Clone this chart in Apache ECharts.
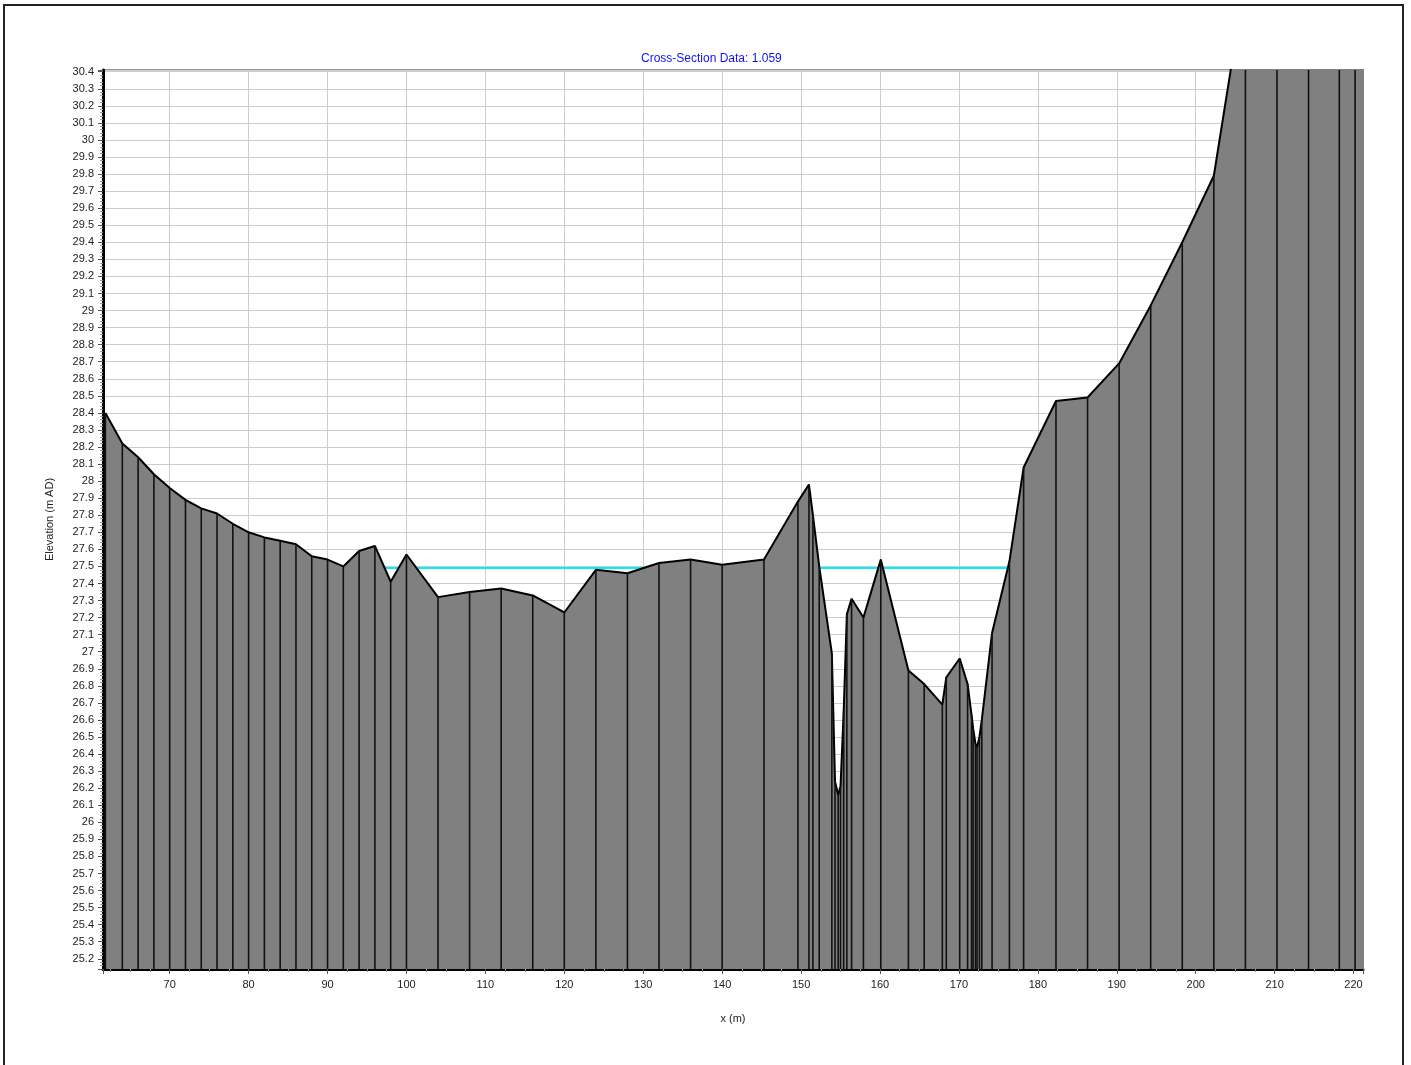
<!DOCTYPE html>
<html>
<head>
<meta charset="utf-8">
<script src="https://cdn.jsdelivr.net/npm/echarts@6/dist/echarts.min.js"></script>
<style>
html,body{margin:0;padding:0;background:#fff;}
#chart{width:1411px;height:1065px;}
</style>
</head>
<body>
<div id="chart"></div>
<script>
// Chainage (m) of each surveyed point
const stationX = [61.85, 64, 66, 68, 70, 72, 74, 76, 78, 80, 82, 84, 86, 88, 90, 92, 94, 96, 98, 100,
  104, 108, 112, 116, 120, 124, 128, 132, 136, 140, 145.3, 149.6, 151.0, 151.5, 152.3, 153.9,
  154.3, 154.7, 155.0, 155.4, 155.8, 156.4, 157.9, 160.1, 163.6, 165.6, 167.9, 168.4, 170.1,
  171.1, 171.6, 171.8, 172.1, 172.3, 172.6, 172.9, 174.2, 176.4, 178.2, 182.3, 186.3, 190.3,
  194.3, 198.3, 202.3, 206.3, 210.3, 214.3, 218.2, 220.2, 222.2];
// Bed elevation (m AD)
const elevation = [28.40, 28.22, 28.14, 28.04, 27.96, 27.89, 27.84, 27.81, 27.75, 27.70, 27.67, 27.65,
  27.63, 27.56, 27.54, 27.50, 27.59, 27.62, 27.41, 27.57, 27.32, 27.35, 27.37, 27.33, 27.23, 27.48,
  27.46, 27.52, 27.54, 27.51, 27.54, 27.88, 27.98, 27.80, 27.50, 26.99, 26.24, 26.16, 26.21, 26.65,
  27.22, 27.31, 27.20, 27.54, 26.89, 26.81, 26.69, 26.85, 26.96, 26.81, 26.63, 26.55, 26.46, 26.44,
  26.50, 26.60, 27.11, 27.53, 28.08, 28.47, 28.49, 28.69, 29.03, 29.40, 29.79, 30.95, 31.5, 32.0,
  32.4, 32.6, 32.8];
// Water surface
const waterLevel = 27.49;
const waterExtent = [97.3, 176.3];
// Axis ranges
const xRange = [61.55, 221.2];
const yRange = [25.14, 30.41];
const titleText = 'Cross-Section Data: 1.059';
const xName = 'x (m)';
const yName = 'Elevation (m AD)';

const profile = stationX.map((x, i) => [x, elevation[i]]);
const water = waterExtent.map(x => [x, waterLevel]);

const chart = echarts.init(document.getElementById('chart'), null, {renderer: 'canvas'});
const FONT = 'Liberation Sans, Arial, sans-serif';

chart.setOption({
  animation: false,
  backgroundColor: '#ffffff',
  title: {
    text: titleText,
    left: 636,
    top: 48,
    textStyle: {color: '#1010ff', fontSize: 12, fontWeight: 'normal', fontFamily: FONT}
  },
  graphic: [{
    type: 'rect',
    shape: {x: 4, y: 5, width: 1399, height: 1075},
    style: {fill: 'none', stroke: '#222', lineWidth: 2},
    z: 100
  }],
  grid: {
    left: 103, right: 48, top: 70, bottom: 96,
    show: true, borderColor: '#333', borderWidth: 1, backgroundColor: 'transparent'
  },
  xAxis: {
    type: 'value',
    min: xRange[0], max: xRange[1],
    splitNumber: 16,
    name: xName,
    nameLocation: 'middle',
    nameGap: 44,
    nameTextStyle: {color: '#222', fontSize: 11, fontFamily: FONT},
    axisLine: {show: true, onZero: false, lineStyle: {color: '#000', width: 3}},
    axisTick: {show: true, length: 5, lineStyle: {color: '#555'}},
    minorTick: {show: true, splitNumber: 4, length: 3, lineStyle: {color: '#888'}},
    axisLabel: {
      color: '#222', fontSize: 11, fontFamily: FONT, margin: 10,
      showMinLabel: false, showMaxLabel: false
    },
    splitLine: {show: true, lineStyle: {color: '#cccccc', width: 1}}
  },
  yAxis: {
    type: 'value',
    min: yRange[0], max: yRange[1],
    splitNumber: 53,
    name: yName,
    nameLocation: 'middle',
    nameRotate: 90,
    nameGap: 48,
    nameTextStyle: {color: '#222', fontSize: 11, fontFamily: FONT},
    axisLine: {show: true, onZero: false, lineStyle: {color: '#000', width: 3}},
    axisTick: {show: true, length: 5, lineStyle: {color: '#555'}},
    minorTick: {show: true, splitNumber: 5, length: 3, lineStyle: {color: '#999'}},
    axisLabel: {
      color: '#222', fontSize: 11, fontFamily: FONT, margin: 9,
      showMinLabel: false, showMaxLabel: false,
      formatter: v => String(Math.round(v * 10) / 10)
    },
    splitLine: {show: true, lineStyle: {color: '#cccccc', width: 1}}
  },
  series: [
    {
      name: 'Water',
      type: 'line',
      data: water,
      symbol: 'none',
      z: 1,
      lineStyle: {color: '#00f0ff', width: 2},
      silent: true
    },
    {
      name: 'Bed',
      type: 'line',
      data: profile,
      symbol: 'none',
      clip: true,
      z: 2,
      lineStyle: {color: '#000', width: 2},
      areaStyle: {color: '#808080', opacity: 1, origin: 'start'},
      silent: true
    },
    {
      name: 'Verticals',
      type: 'custom',
      data: profile,
      clip: true,
      z: 3,
      silent: true,
      renderItem: function (params, api) {
        const x = api.value(0), y = api.value(1);
        const p1 = api.coord([x, y]);
        const p2 = api.coord([x, yRange[0]]);
        return {
          type: 'line',
          shape: {x1: p1[0], y1: p1[1], x2: p2[0], y2: p2[1]},
          style: {stroke: '#111', lineWidth: 1.6}
        };
      }
    }
  ]
});
</script>
</body>
</html>
